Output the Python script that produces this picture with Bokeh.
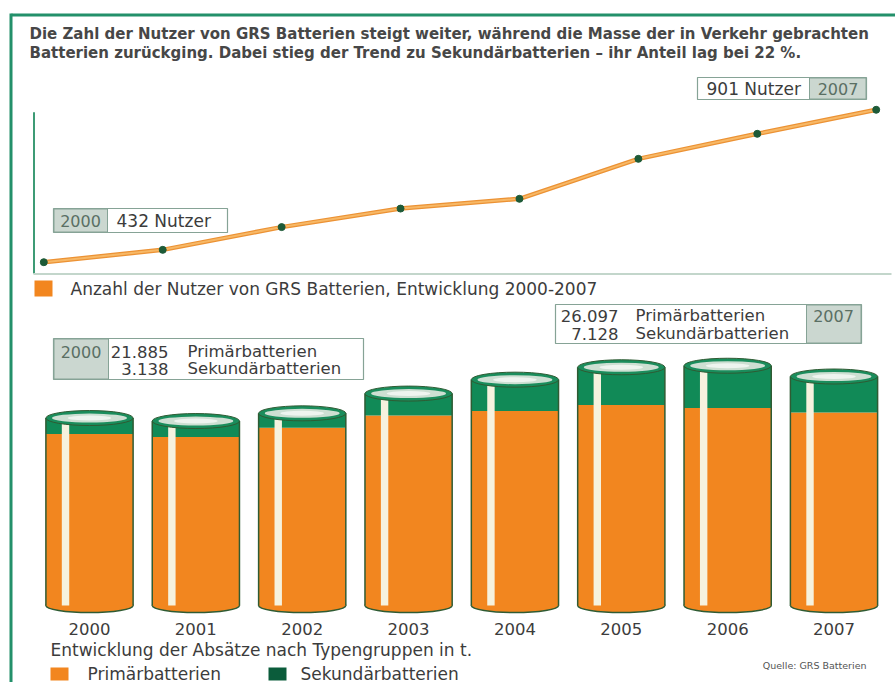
from bokeh.plotting import figure
from bokeh.models import Range1d
from bokeh.core.properties import value
from bokeh.embed import file_html
from bokeh.resources import INLINE

# ---------------- data ----------------
years = [2000, 2001, 2002, 2003, 2004, 2005, 2006, 2007]
users = [432, 470, 540, 597, 627, 750, 827, 901]
primary_t = [21885, 21300, 23100, 25500, 26400, 27600, 27000, 26097]
secondary_t = [3138, 3130, 2850, 4350, 6200, 7450, 8350, 7128]

title_lines = [
    "Die Zahl der Nutzer von GRS Batterien steigt weiter, während die Masse der in Verkehr gebrachten",
    "Batterien zurückging. Dabei stieg der Trend zu Sekundärbatterien – ihr Anteil lag bei 22 %.",
]
line_legend = "Anzahl der Nutzer von GRS Batterien, Entwicklung 2000-2007"
bar_caption = "Entwicklung der Absätze nach Typengruppen in t."
series_names = ["Primärbatterien", "Sekundärbatterien"]
source_note = "Quelle: GRS Batterien"
users_unit = "Nutzer"

# ---------------- styles / layout ----------------
FONT = value("DejaVu Sans")
TXT = "#3c3c3c"
FRAME_GREEN = "#23906a"
ORANGE = "#f2861f"
GREEN = "#118a57"
DARK_GREEN = "#0b5c3b"
OUTLINE = "#2f5b33"
BOX_LINE = "#86a396"
BOX_FILL = "#cbd7d0"
STRIPE = "#f6f2de"
FS = "17px"

LEFT, RIGHT, TOP, BOTTOM = 0, 895, 0, 682      # page pixel frame of the figure
BAT_W = 0.82                                    # battery width in years
BAT_BASE = -12000                               # visual foot of the battery bodies (t)


def fmt(v):
    return f"{v:,}".replace(",", ".")


def xr(v_a, X_a, v_b, X_b):
    k = (X_b - X_a) / (v_b - v_a)
    return Range1d(v_a - (X_a - LEFT) / k, v_a + (RIGHT - X_a) / k)


def yr(v_a, Y_a, v_b, Y_b):
    k = (Y_a - Y_b) / (v_b - v_a)
    return Range1d(v_a - (BOTTOM - Y_a) / k, v_a + (Y_a - TOP) / k)


p = figure(width=RIGHT - LEFT, height=BOTTOM - TOP,
           x_range=Range1d(LEFT, RIGHT), y_range=Range1d(BOTTOM, TOP),
           x_axis_location=None, y_axis_location=None,
           output_backend="svg", toolbar_location=None, min_border=0)
p.grid.visible = False
p.outline_line_color = None
p.background_fill_color = "white"

p.extra_x_ranges = {"yr": xr(2000, 43.3, 2007, 875.7),
                    "bat": xr(2000, 89, 2007, 833.5)}
p.extra_y_ranges = {"users": yr(400, 272.1, 900, 109.6),
                    "tons": yr(BAT_BASE, 605, 33225, 376)}

# ---------------- frame ----------------
p.segment(x0=[11, 10.5], y0=[14.5, 13], x1=[895, 10.5], y1=[14.5, 682],
          line_color=FRAME_GREEN, line_width=3)

# ---------------- title ----------------
p.text(x=[29, 29], y=[33, 52], text=title_lines, text_font=FONT,
       text_font_size="15px", text_font_style="bold", text_color="#474747",
       text_baseline="middle")

# ---------------- line chart ----------------
p.segment(x0=[33.5], y0=[111.7], x1=[33.5], y1=[273], line_color="#3d9b75", line_width=2)
p.segment(x0=[33], y0=[273.5], x1=[891], y1=[273.5], line_color="#c3d6cb", line_width=2)

p.line(years, users, x_range_name="yr", y_range_name="users",
       line_color="#ec9234", line_width=4.5)
p.line(years, users, x_range_name="yr", y_range_name="users",
       line_color="#f7b866", line_width=2)
p.scatter(years, users, x_range_name="yr", y_range_name="users",
          size=7, fill_color="#1d5a37", line_color="#1d5a37")

# value boxes of the line chart
p.quad(left=[53, 697], right=[227, 866], top=[208, 77], bottom=[232, 99],
       fill_color="white", line_color=BOX_LINE, line_width=1.2)
p.quad(left=[53.5, 809], right=[107, 865.5], top=[208.5, 77.5], bottom=[231.5, 98.5],
       fill_color=BOX_FILL, line_color=BOX_LINE, line_width=1)
p.text(x=[80, 837.5], y=[220, 88], text=[str(years[0]), str(years[-1])],
       text_font=FONT, text_font_size="16px", text_color="#5a6f64",
       text_align="center", text_baseline="middle")
p.text(x=[116, 706], y=[220, 88],
       text=[f"{users[0]} {users_unit}", f"{users[-1]} {users_unit}"],
       text_font=FONT, text_font_size=FS, text_color=TXT, text_baseline="middle")

# line legend
p.quad(left=[34], right=[52], top=[280], bottom=[296], fill_color=ORANGE, line_color=None)
p.text(x=[70], y=[288], text=[line_legend], text_font=FONT, text_font_size=FS,
       text_color=TXT, text_baseline="middle")

# ---------------- batteries ----------------
n = len(years)
totals = [a + b for a, b in zip(primary_t, secondary_t)]
lefts = [y - BAT_W / 2 for y in years]
rights = [y + BAT_W / 2 for y in years]
stripe_x = [y - BAT_W / 2 + 0.225 * BAT_W for y in years]
rb = dict(x_range_name="bat", y_range_name="tons")

# rounded foot
p.ellipse(x=years, y=[BAT_BASE] * n, width=BAT_W, height=14,
          height_units="screen", fill_color=ORANGE, line_color=OUTLINE, line_width=1.5, **rb)
# primary (orange) and secondary (green) stacked parts
p.vbar(x=years, bottom=[BAT_BASE] * n, top=primary_t, width=BAT_W,
       fill_color=ORANGE, line_color=None, **rb)
p.vbar(x=years, bottom=primary_t, top=totals, width=BAT_W,
       fill_color=GREEN, line_color=None, **rb)
# highlight stripe
p.vbar(x=stripe_x, bottom=[BAT_BASE] * n, top=totals, width=0.085 * BAT_W,
       fill_color=STRIPE, line_color=None, **rb)
# side outlines
p.segment(x0=lefts + rights, y0=[BAT_BASE] * (2 * n), x1=lefts + rights, y1=totals + totals,
          line_color=OUTLINE, line_width=1.5, **rb)
# cap
p.ellipse(x=years, y=totals, width=BAT_W, height=15, height_units="screen",
          fill_color="#1a8d5c", line_color=OUTLINE, line_width=1, **rb)
p.ellipse(x=years, y=totals, width=BAT_W * 0.86, height=9, height_units="screen",
          fill_color="#cddfd2", line_color=None, **rb)
p.ellipse(x=years, y=totals, width=BAT_W * 0.5, height=5, height_units="screen",
          fill_color="#eef4ef", line_color=None, **rb)

# year labels
p.text(x=years, y=[628] * n, text=[str(y) for y in years],
       text_font=FONT, text_font_size="16.5px", text_color=TXT,
       text_align="center", text_baseline="middle", x_range_name="bat")

# value boxes of the bar chart
p.quad(left=[53, 555], right=[363, 861], top=[338, 304], bottom=[379, 343],
       fill_color="white", line_color=BOX_LINE, line_width=1.2)
p.quad(left=[53.5, 806], right=[108, 860.5], top=[338.5, 304.5], bottom=[378.5, 342.5],
       fill_color=BOX_FILL, line_color=BOX_LINE, line_width=1)
p.text(x=[80.5, 833], y=[351, 315], text=[str(years[0]), str(years[-1])],
       text_font=FONT, text_font_size="16px", text_color="#5a6f64",
       text_align="center", text_baseline="middle")
p.text(x=[168, 168, 618, 618], y=[351, 368, 315, 333],
       text=[fmt(primary_t[0]), fmt(secondary_t[0]), fmt(primary_t[-1]), fmt(secondary_t[-1])],
       text_font=FONT, text_font_size="16.5px", text_color=TXT,
       text_align="right", text_baseline="middle")
p.text(x=[187, 187, 635, 635], y=[351, 368, 315, 333],
       text=series_names * 2, text_font=FONT, text_font_size="16.5px", text_color=TXT,
       text_baseline="middle")

# caption + legend
p.text(x=[50], y=[649], text=[bar_caption], text_font=FONT, text_font_size=FS,
       text_color=TXT, text_baseline="middle")
p.quad(left=[50, 268], right=[68, 286], top=[667, 667], bottom=[680, 680],
       fill_color=[ORANGE, DARK_GREEN], line_color=None)
p.text(x=[87, 300], y=[673, 673], text=series_names, text_font=FONT,
       text_font_size=FS, text_color=TXT, text_baseline="middle")
p.text(x=[866], y=[665], text=[source_note], text_font=FONT, text_font_size="9.5px",
       text_color="#555555", text_align="right", text_baseline="middle")

open("out.html", "w").write(file_html(p, INLINE))
